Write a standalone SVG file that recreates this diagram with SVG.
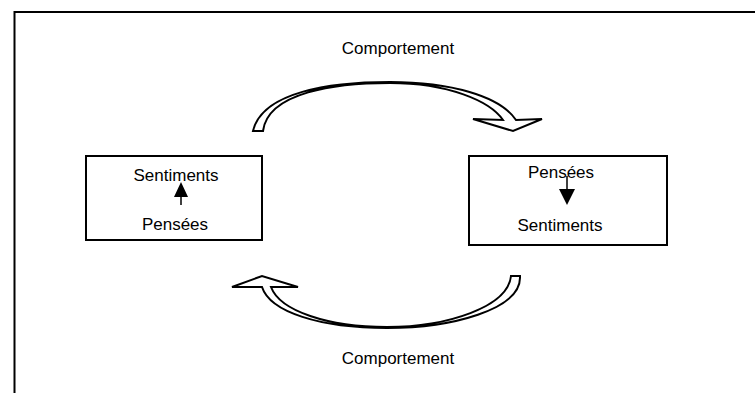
<svg xmlns="http://www.w3.org/2000/svg" width="755" height="393" viewBox="0 0 755 393">
  <style>
    .lbl { font-family: "Liberation Sans", Arial, sans-serif; font-size: 17px; fill: #000; text-anchor: middle; }
    .box { fill: #fff; stroke: #000; stroke-width: 2; }
    .band { fill: #fff; stroke: #000; stroke-width: 2; stroke-linejoin: miter; }
    .frame { fill: none; stroke: #000; stroke-width: 2; }
  </style>

  <rect width="755" height="393" fill="#fff"/>
  <!-- outer frame: top and left edges -->
  <path class="frame" d="M14.5,393 L14.5,12 L755,12"/>

  <!-- curved block arrows -->
  <g id="connectors">
    <g id="arrow-top">
      <path class="band" d="M253,131 C262,92 330,82 390,82 C450,82 500,96 516,120 L542,119 L513,131 L473,119 L503,120 C490,101 448,83 390,83 C336,83 268,92 263,131 Z"/>
      <text class="lbl" x="398" y="54">Comportement</text>
    </g>
    <g id="arrow-bottom">
      <path class="band" d="M520,276 C522,310 450,328 387,328 C320,328 270,312 262,287 L232,287 L262,276 L298,287 L271,287 C280,311 328,327 387,327 C447,327 508,307 511,276 Z"/>
      <text class="lbl" x="398" y="364">Comportement</text>
    </g>
  </g>

  <!-- left node: Pensées lead to Sentiments -->
  <g id="node-left">
    <rect class="box" x="86" y="156" width="176" height="84"/>
    <text class="lbl" x="176" y="181">Sentiments</text>
    <text class="lbl" x="175" y="230">Pensées</text>
    <line x1="181" y1="205" x2="181" y2="196" stroke="#000" stroke-width="1.5"/>
    <path d="M181,182 L188,197 L174,197 Z" fill="#000"/>
  </g>

  <!-- right node: Sentiments follow Pensées -->
  <g id="node-right">
    <rect class="box" x="469" y="156" width="198" height="89"/>
    <text class="lbl" x="561" y="178">Pensées</text>
    <text class="lbl" x="560" y="231">Sentiments</text>
    <line x1="567" y1="176" x2="567" y2="190" stroke="#000" stroke-width="1.5"/>
    <path d="M559,189 L575,189 L567,205 Z" fill="#000"/>
  </g>
</svg>
